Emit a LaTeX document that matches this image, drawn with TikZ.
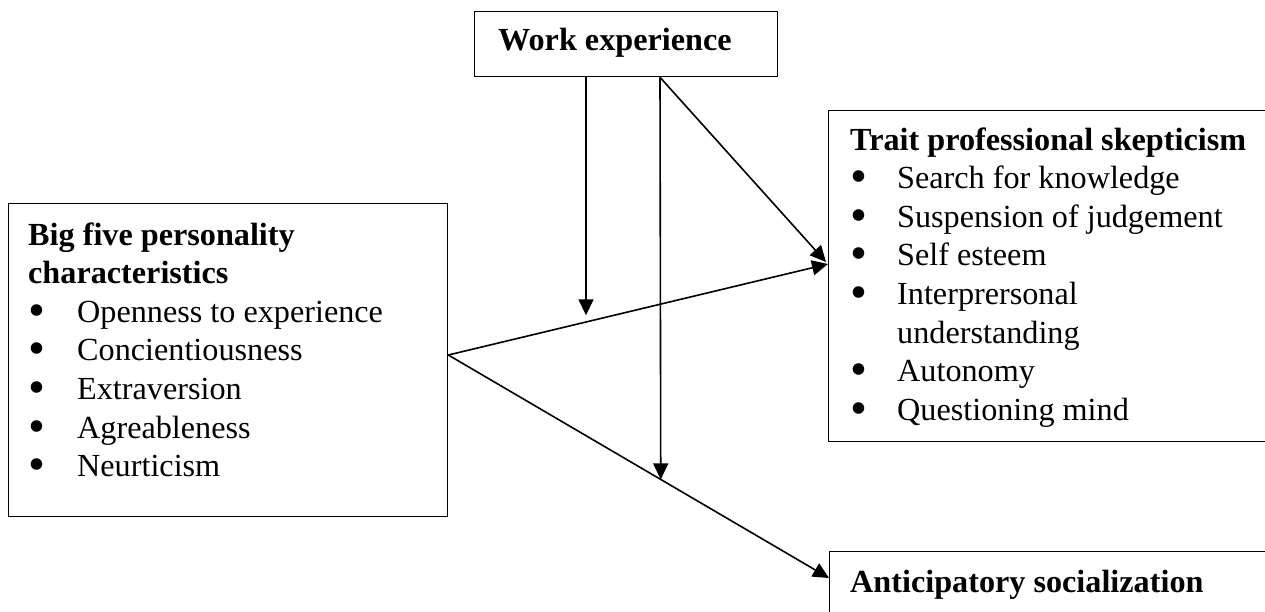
\documentclass[tikz,border=0pt]{standalone}
\usepackage{fontspec}
\usepackage{graphicx}
\setmainfont{Liberation Serif}
\usetikzlibrary{arrows.meta,calc}
\newcommand{\mybul}{\smash{\raisebox{-4pt}{\scalebox{1.5}{\textbullet}}}}
\begin{document}
\begin{tikzpicture}[x=1pt,y=-1pt,
  box/.style={draw, line width=1.3pt, inner sep=0, anchor=north west},
  txt/.style={font=\fontsize{32.2}{38.6}\selectfont, inner sep=0, anchor=base west},
  conn/.style={line width=1.6pt, -{Triangle[length=16pt,width=15pt]}}]
\useasboundingbox (0,0) rectangle (1265,611);
\clip (0,0) rectangle (1265,611);
% boxes
\node[box, minimum width=303pt, minimum height=65pt] (we) at (474,11) {};
\node[box, minimum width=439pt, minimum height=313pt] (bf) at (8,203) {};
\node[box, minimum width=445pt, minimum height=331pt] (tp) at (828,110) {};
\node[box, minimum width=445pt, minimum height=100pt] (as) at (829,551) {};
% texts
\node[txt] (weT) at (498,50) {\textbf{Work experience}};
\node[txt] (bfT) at (28,245) {\begin{tabular}[t]{@{}p{49pt}@{}l@{}}
\multicolumn{2}{@{}l@{}}{\textbf{Big five personality}}\\
\multicolumn{2}{@{}l@{}}{\textbf{characteristics}}\\
\mybul & Openness to experience\\
\mybul & Concientiousness\\
\mybul & Extraversion\\
\mybul & Agreableness\\
\mybul & Neurticism
\end{tabular}};
\node[txt] (tpT) at (850,150) {\begin{tabular}[t]{@{}p{47pt}@{}l@{}}
\multicolumn{2}{@{}l@{}}{\textbf{Trait professional skepticism}}\\
\mybul & Search for knowledge\\
\mybul & Suspension of judgement\\
\mybul & Self esteem\\
\mybul & Interprersonal\\
 & understanding\\
\mybul & Autonomy\\
\mybul & Questioning mind
\end{tabular}};
\node[txt] (asT) at (850,592) {\textbf{Anticipatory socialization}};
% connector points
\coordinate (w1) at ($(we.south west)+(112,0)$);
\coordinate (w1e) at ($(we.south west)+(112,238)$);
\coordinate (w2) at ($(we.south west)+(186,0)$);
\coordinate (bfo) at ($(bf.north east)+(0,152)$);
\coordinate (tpi) at ($(tp.north west)+(0,154)$);
\coordinate (tpd) at ($(tp.north west)+(-2,152)$);
\coordinate (asi) at ($(as.north west)+(0,27)$);
\coordinate (mid) at ($(bfo)!0.558!(asi)$);
% connectors
\draw[conn] (w1) -- (w1e);
\draw[conn] (w2) -- (mid);
\draw[conn] (w2) -- (tpd);
\draw[conn] (bfo) -- (tpi);
\draw[conn] (bfo) -- (asi);
\end{tikzpicture}
\end{document}
